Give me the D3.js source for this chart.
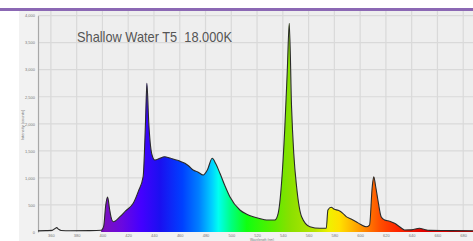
<!DOCTYPE html>
<html lang="en">
<head>
<meta charset="UTF-8" />
<title>Shallow Water T5 18.000K</title>
<script src="https://d3js.org/d3.v7.min.js"></script>
<style>
  html, body { margin: 0; padding: 0; background: #fff; }
  svg { display: block; font-family: "Liberation Sans", Arial, sans-serif; }
</style>
</head>
<body>
<svg id="chart" width="473" height="241"></svg>
<script>
// spectrum: wavelength (nm) and intensity (counts)
const wavelengths = [350, 356, 361, 363, 364.5, 366, 368, 375, 390, 399, 401, 402.5, 404, 405.5, 406.6, 408.4,
  413.6, 418, 423.9, 428, 431.6, 433.5, 434.5, 436, 438.2, 440.7, 444.6, 448, 452.4, 456, 460, 464, 467, 470.4,
  474, 478.2, 481.5, 485.2, 488, 491.2, 495, 498.9, 506.7, 512, 517, 522, 527.4, 533.8, 536.4, 539, 541.5,
  543.5, 545, 546.8, 548.5, 550.7, 554.6, 561, 568.8, 573.7, 575, 577.5, 580, 583, 586.6, 589.2, 593, 596.9,
  600.5, 604.7, 607.3, 609.4, 610.6, 612, 613.8, 616.3, 619, 623, 626.7, 630.6, 634.5, 640, 646.1, 650, 654.1,
  670, 690, 700];
const intensity = [20, 25, 30, 60, 80, 50, 28, 22, 25, 32, 110, 480, 645, 430, 283, 190,
  283, 390, 530, 760, 1022, 2070, 2749, 2000, 1455, 1331, 1362, 1390, 1368, 1340, 1310, 1270, 1220, 1146,
  1110, 1053, 1150, 1362, 1260, 1085, 860, 653, 407, 330, 283, 250, 222, 222, 345, 900, 1900,
  3000, 3858, 2300, 1450, 837, 283, 98, 68, 68, 407, 457, 420, 400, 345, 283, 240, 190,
  140, 98, 129, 837, 1022, 850, 592, 283, 222, 200, 160, 98, 37, 40, 68, 45, 30,
  26, 24, 24];
const xTicks = [360, 380, 400, 420, 440, 460, 480, 500, 520, 540, 560, 580, 600, 620, 640, 660, 680];
const yTicks = [0, 500, 1000, 1500, 2000, 2500, 3000, 3500, 4000];
const title = "Shallow Water T5  18.000K";

const svg = d3.select("#chart");
const width = 473, height = 241;

const x = d3.scaleLinear().domain([350, 700]).range([38, 38 + 350 * 1.2885]);
const y = d3.scaleLinear().domain([0, 4000]).range([232, 15.6]);

// spectral fill
const spectrum = [
  [396, "#5a0a8c"], [402, "#7a10c0"], [415, "#6a08e0"], [430, "#4400ff"], [445, "#1a10f0"],
  [462, "#0040ff"], [475, "#0080ff"], [485, "#00d0ff"], [490, "#00fff0"], [500, "#00ff80"],
  [512, "#10ff10"], [530, "#50f000"], [545, "#88e000"], [565, "#b8e400"], [576, "#f0f000"],
  [584, "#ffe000"], [595, "#ffb000"], [605, "#ff8000"], [615, "#ff5000"], [628, "#ff2800"],
  [650, "#e00000"], [700, "#c00000"]
];
const defs = svg.append("defs");
const grad = defs.append("linearGradient")
  .attr("id", "spec")
  .attr("gradientUnits", "userSpaceOnUse")
  .attr("x1", x(396)).attr("x2", x(700)).attr("y1", 0).attr("y2", 0);
spectrum.forEach(s => {
  grad.append("stop").attr("offset", (s[0] - 396) / (700 - 396)).attr("stop-color", s[1]);
});
defs.append("clipPath").attr("id", "clip")
  .append("rect").attr("x", 38).attr("y", 11).attr("width", width - 38).attr("height", 232 - 11 + 1);

// background panel
svg.append("rect").attr("x", 19).attr("y", 11).attr("width", width - 19).attr("height", height - 11)
  .attr("fill", "#f2f2f2");
svg.append("rect").attr("x", 38).attr("y", 11).attr("width", width - 38).attr("height", 232 - 11)
  .attr("fill", "#eeeeee");

// grid
svg.append("g").selectAll("line").data(xTicks).enter().append("line")
  .attr("x1", d => x(d)).attr("x2", d => x(d)).attr("y1", 11).attr("y2", 232)
  .attr("stroke", "#d9d9d9").attr("stroke-width", 1.2);
svg.append("g").selectAll("line").data(yTicks.slice(1)).enter().append("line")
  .attr("x1", 38).attr("x2", width).attr("y1", d => y(d)).attr("y2", d => y(d))
  .attr("stroke", "#d9d9d9").attr("stroke-width", 1.2);

// axes
const yAxis = svg.append("g")
  .attr("transform", "translate(38,0)")
  .call(d3.axisLeft(y).tickValues(yTicks).tickSize(0).tickPadding(3));
yAxis.select(".domain").attr("stroke", "#a8a8a8").attr("stroke-width", 1.2);
yAxis.selectAll("text").attr("font-size", 4).attr("fill", "#777");

const xAxis = svg.append("g")
  .attr("transform", "translate(0,232)")
  .call(d3.axisBottom(x).tickValues(xTicks).tickSize(0).tickPadding(2.5));
xAxis.select(".domain").remove();
xAxis.selectAll("text").attr("font-size", 4).attr("fill", "#777");

svg.append("text")
  .attr("transform", "translate(24,125) rotate(-90)")
  .attr("text-anchor", "middle")
  .attr("font-size", 4).attr("fill", "#777")
  .text("Intensity (counts)");
svg.append("text")
  .attr("x", 262).attr("y", 240.6)
  .attr("text-anchor", "middle")
  .attr("font-size", 3.2).attr("fill", "#777")
  .text("Wavelength (nm)");

// spectrum area
const pts = wavelengths.map((w, i) => [w, intensity[i]]);
const area = d3.area()
  .x(d => x(d[0])).y0(y(0)).y1(d => y(d[1]))
  .curve(d3.curveMonotoneX);
const line = d3.line()
  .x(d => x(d[0])).y(d => y(d[1]))
  .curve(d3.curveMonotoneX);

const plot = svg.append("g").attr("clip-path", "url(#clip)");
plot.append("path").datum(pts.filter(d => d[0] >= 399))
  .attr("d", area).attr("fill", "url(#spec)");
plot.append("path").datum(pts)
  .attr("d", line).attr("fill", "none")
  .attr("stroke", "#2a2a2a").attr("stroke-width", 1.1);

// title
svg.append("text")
  .attr("x", 77).attr("y", 42)
  .attr("font-size", 14.5).attr("fill", "#555")
  .style("white-space", "pre")
  .attr("textLength", 155).attr("lengthAdjust", "spacingAndGlyphs")
  .text(title);

// purple rule at the top
svg.append("rect").attr("x", 0).attr("y", 8).attr("width", width).attr("height", 3)
  .attr("fill", "#8b68b4");
</script>
</body>
</html>
